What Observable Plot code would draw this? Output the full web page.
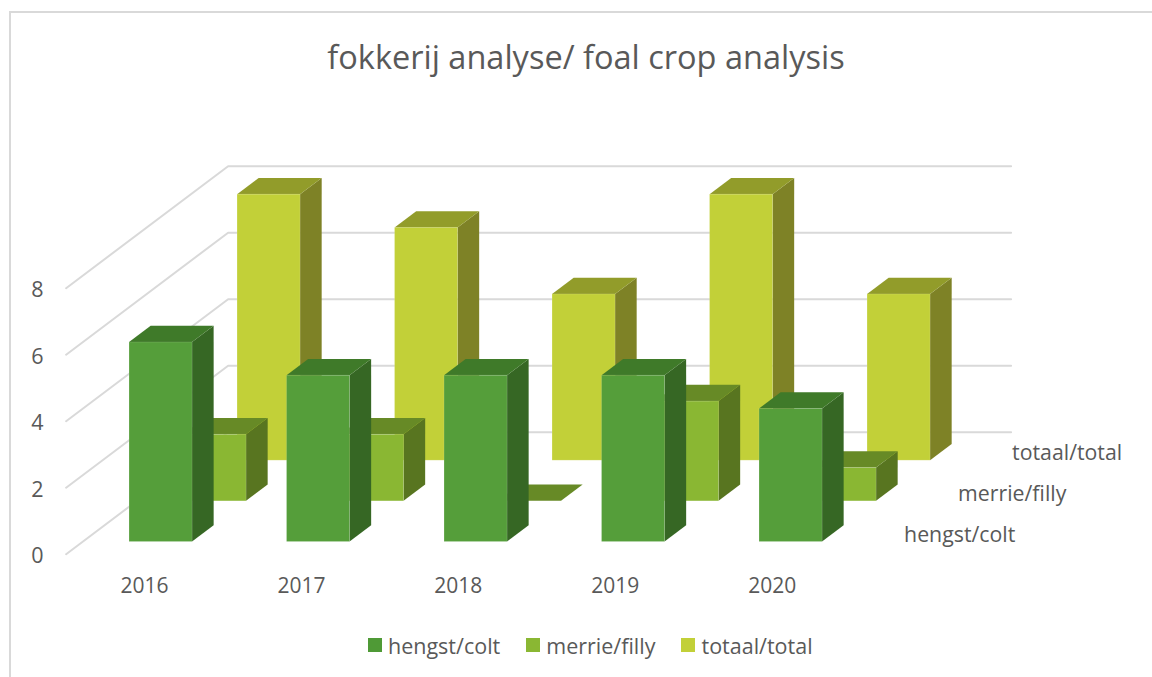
<!DOCTYPE html>
<html>
<head>
<meta charset="utf-8">
<script src="https://cdn.jsdelivr.net/npm/d3@7"></script>
<script src="https://cdn.jsdelivr.net/npm/@observablehq/plot@0.6"></script>
<style>
html,body{margin:0;padding:0;background:#fff;}
#page{position:relative;width:1152px;height:677px;overflow:hidden;font-family:"Open Sans",sans-serif;color:#595959;box-sizing:border-box;}
#frame{position:absolute;left:9px;top:11px;right:-5px;bottom:-5px;border-left:2px solid #d9d9d9;border-top:2px solid #d9d9d9;}
#title{position:absolute;left:0;top:0;width:1172px;height:100px;line-height:113px;text-align:center;font-size:32.5px;}
#chart{position:absolute;left:0;top:100px;}
#legend{position:absolute;left:368px;top:629px;height:32px;display:flex;align-items:center;font-size:21.5px;}
#legend span.sw{display:inline-block;width:14px;height:14px;margin-right:6px;}
#legend span.it{display:inline-flex;align-items:center;margin-right:26px;}
</style>
</head>
<body>
<div id="page">
<div id="frame"></div>
<div id="title">fokkerij analyse/ foal crop analysis</div>
<div id="chart"></div>
<div id="legend"></div>
</div>
<script>
const years = [2016, 2017, 2018, 2019, 2020];
const hengst = [6, 5, 5, 5, 4];
const merrie = [2, 2, 0, 3, 1];
const totaal = [8, 7, 5, 8, 5];
const seriesNames = ["hengst/colt", "merrie/filly", "totaal/total"];
const seriesValues = [hengst, merrie, totaal];
const frontColors = ["#559e3a", "#8ab733", "#c2d038"];
const topColors = ["#3f7a29", "#678a26", "#929c2a"];
const sideColors = ["#366724", "#587520", "#7e8226"];
const legendColors = ["#4f9a36", "#8ab733", "#c2d038"];
const yTicks = [0, 2, 4, 6, 8];

// oblique projection: one series step of depth shifts the plane right and up
const shiftX = 0.3429;
const shiftY = 1.223;
const barStart = 0.3, barEnd = 0.7;
const labelStep = 0.9962;
const wallEnd = 6;
const nS = seriesNames.length;
const px = (c, d) => c + d * shiftX;
const py = (v, d) => v + d * shiftY;

const gridRows = yTicks.flatMap(v => [
  {v, x: px(0, 0), y: py(v, 0)},
  {v, x: px(0, nS), y: py(v, nS)},
  {v, x: wallEnd, y: py(v, nS)}
]);

const marks = [];
marks.push(Plot.line(gridRows, {x: "x", y: "y", z: "v", stroke: "#d9d9d9", strokeWidth: 2, strokeLinejoin: "miter"}));

for (let s = nS - 1; s >= 0; s--) {
  const d0 = s + barStart, d1 = s + barEnd;
  const rows = seriesValues[s].map((v, i) => ({i, v}));
  const sideRows = rows.flatMap(r => [d0, d1].map(d => ({
    i: r.i,
    x: px(r.i + barEnd, d),
    y1: py(0, d),
    y2: py(r.v, d)
  })));
  const topRows = rows.flatMap(r => [d0, d1].map(d => ({
    i: r.i,
    y: py(r.v, d),
    x1: px(r.i + barStart, d),
    x2: px(r.i + barEnd, d)
  })));
  marks.push(Plot.areaY(sideRows.filter(r => r.y2 > r.y1), {x: "x", y1: "y1", y2: "y2", z: "i", fill: sideColors[s]}));
  marks.push(Plot.areaX(topRows, {y: "y", x1: "x1", x2: "x2", z: "i", fill: topColors[s]}));
  marks.push(Plot.rect(rows.filter(r => r.v > 0), {
    x1: r => px(r.i + barStart, d0),
    x2: r => px(r.i + barEnd, d0),
    y1: py(0, d0),
    y2: r => py(r.v, d0),
    fill: frontColors[s],
    stroke: "#ffffff",
    strokeOpacity: 0.12,
    strokeWidth: 1
  }));
}

marks.push(Plot.text(seriesNames, {
  x: (d, i) => px(years.length, i + 0.5),
  y: (d, i) => py(0, i + 0.5),
  text: d => d,
  textAnchor: "start",
  dx: 23.5,
  dy: 1,
  fontSize: 21.3,
  fill: "#595959"
}));

marks.push(Plot.axisY({ticks: yTicks, tickSize: 0, tickPadding: 22, label: null, fontSize: 21.5, dy: 2, fill: "#595959"}));
marks.push(Plot.axisX({
  ticks: years.map((y, i) => (i + 0.5) * labelStep),
  tickFormat: d => String(years[Math.round(d / labelStep - 0.5)]),
  tickSize: 0,
  tickPadding: 24,
  label: null,
  fontSize: 21,
  fill: "#595959"
}));

const chart = Plot.plot({
  width: 1152,
  height: 520,
  marginLeft: 65,
  marginRight: 141,
  marginTop: 65,
  marginBottom: 66,
  style: {background: "transparent", fontFamily: '"Open Sans",sans-serif', fontSize: "21px", color: "#595959", overflow: "visible"},
  x: {type: "linear", domain: [0, wallEnd], range: [65.6, 1010.6]},
  y: {type: "linear", domain: [0, 8 + nS * shiftY], range: [453.7, 65.7]},
  marks
});
document.getElementById("chart").appendChild(chart);

const legend = document.getElementById("legend");
seriesNames.forEach((n, i) => {
  const it = document.createElement("span");
  it.className = "it";
  const sw = document.createElement("span");
  sw.className = "sw";
  sw.style.background = legendColors[i];
  it.appendChild(sw);
  it.appendChild(document.createTextNode(n));
  legend.appendChild(it);
});
</script>
</body>
</html>
